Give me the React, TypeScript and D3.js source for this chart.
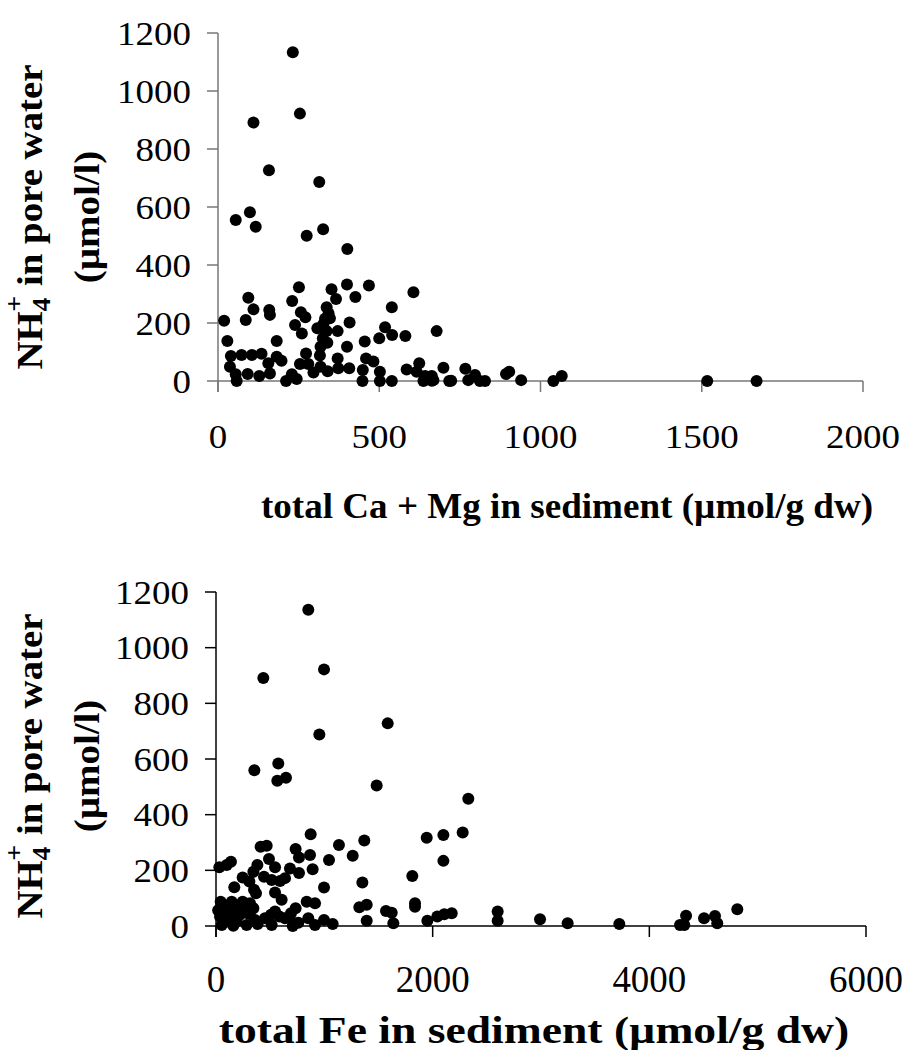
import React from "react";
import * as d3 from "d3";

// ---- Data ----
const caMg = [
  55, 99, 117, 275, 326, 401, 19, 29, 94, 110, 86, 159, 161, 182, 230, 251, 257, 271, 239, 260,
  352, 366, 400, 426, 468, 337, 343, 332, 347, 308, 327, 337, 371, 325, 339, 318, 408, 400, 455, 500,
  518, 540, 539, 581, 606, 678, 699, 40, 73, 105, 135, 37, 55, 58, 92, 128, 161, 156, 182, 197,
  211, 229, 244, 273, 254, 280, 296, 316, 318, 340, 371, 373, 407, 448, 449, 459, 482, 502, 502, 539,
  585, 624, 616, 637, 657, 668, 717, 232, 254, 110, 158, 314, 642, 663, 663, 723, 767, 797, 776, 828,
  812, 893, 903, 940, 1040, 1066, 1517, 1670,
];
const nh4CaMg = [
  555, 582, 532, 501, 523, 455, 208, 138, 287, 247, 210, 245, 228, 138, 276, 323, 237, 220, 193, 164,
  316, 283, 333, 290, 329, 254, 233, 215, 216, 182, 197, 172, 172, 147, 132, 118, 202, 118, 136, 147,
  185, 159, 254, 155, 306, 172, 46, 86, 90, 90, 94, 49, 23, 0, 24, 17, 26, 61, 84, 70,
  0, 23, 7, 95, 59, 59, 29, 88, 49, 34, 78, 44, 44, 0, 38, 78, 67, 32, 0, 0,
  40, 61, 32, 0, 15, 3, 0, 1134, 922, 891, 727, 686, 17, 17, 1, 1, 42, 21, 3, 0,
  0, 24, 32, 3, 0, 17, 0, 0,
];

const fe = [
  852, 997, 437, 1585, 954, 575, 354, 566, 646, 1483, 2329, 874, 1135, 1369, 1262, 1043, 1945, 2099, 2277, 2099,
  1812, 1351, 997, 892, 868, 766, 735, 766, 683, 637, 591, 545, 489, 412, 468, 382, 345, 443, 514, 246,
  308, 351, 369, 169, 31, 99, 138, 545, 606, 837, 914, 735, 692, 545, 508, 585, 637, 720, 760, 708,
  852, 914, 997, 1077, 1323, 1391, 1391, 1569, 1622, 1637, 1837, 1837, 1951, 2043, 2107, 2176, 2600, 2600, 20, 43,
  145, 246, 314, 99, 191, 268, 345, 37, 129, 222, 308, 53, 160, 283, 385, 514, 99, 191, 360, 452,
  2991, 3246, 3723, 4283, 4323, 4339, 4505, 4606, 4627, 4812,
];
const nh4Fe = [
  1136, 922, 891, 728, 688, 584, 560, 522, 533, 505, 457, 330, 291, 307, 252, 237, 317, 327, 336, 234,
  180, 156, 138, 204, 255, 246, 277, 190, 207, 172, 162, 211, 241, 285, 288, 219, 195, 177, 165, 174,
  160, 130, 118, 139, 211, 219, 231, 120, 94, 87, 82, 64, 46, 52, 40, 34, 28, 10, 12, 0,
  28, 4, 22, 7, 67, 76, 19, 54, 48, 10, 82, 69, 19, 34, 42, 46, 52, 19, 57, 87,
  87, 87, 82, 60, 60, 58, 64, 34, 34, 40, 43, 4, 1, 4, 7, 4, 16, 16, 22, 28,
  24, 10, 7, 4, 4, 37, 28, 36, 10, 60,
];

const yTicks = [0, 200, 400, 600, 800, 1000, 1200];
const xTicksCaMg = [0, 500, 1000, 1500, 2000];
const xTicksFe = [0, 2000, 4000, 6000];

const FONT = "'Liberation Serif', 'Times New Roman', serif";

type PanelProps = {
  xs: number[];
  ys: number[];
  xDomain: [number, number];
  xRange: [number, number];
  yRange: [number, number];
  xTicks: number[];
  axisColor: string;
  xTickLabelY: number;
  xTickScaleY: number;
  xTitle: string;
  xTitleX: number;
  xTitleY: number;
  xTitleSize: number;
  xTitleScale: number;
  yTitleCenter: number;
};

function Panel(p: PanelProps) {
  const x = d3.scaleLinear().domain(p.xDomain).range(p.xRange);
  const y = d3.scaleLinear().domain([0, 1200]).range(p.yRange);
  const x0 = x(0);
  const y0 = y(0);
  const tickLen = 11;
  return (
    <g>
      {/* y axis */}
      <line x1={x0} x2={x0} y1={y(1200)} y2={y0 + tickLen} stroke={p.axisColor} strokeWidth={1.5} />
      {yTicks.map((t) => (
        <g key={"yt" + t}>
          <line x1={x0 - tickLen} x2={x0} y1={y(t)} y2={y(t)} stroke={p.axisColor} strokeWidth={1.5} />
          <text
            transform={`translate(${x0 - 27},${y(t)}) scale(1.12,1)`}
            dy="0.35em"
            textAnchor="end"
            fontFamily={FONT}
            fontSize={33}
          >
            {t}
          </text>
        </g>
      ))}
      {/* x axis */}
      <line x1={x0} x2={x(p.xDomain[1])} y1={y0} y2={y0} stroke={p.axisColor} strokeWidth={1.5} />
      {p.xTicks.map((t) => (
        <g key={"xt" + t}>
          <line x1={x(t)} x2={x(t)} y1={y0} y2={y0 + tickLen} stroke={p.axisColor} strokeWidth={1.5} />
          <text
            transform={`translate(${x(t)},${p.xTickLabelY}) scale(1.12,${p.xTickScaleY})`}
            textAnchor="middle"
            fontFamily={FONT}
            fontSize={33}
          >
            {t}
          </text>
        </g>
      ))}
      {/* points */}
      {p.xs.map((v, i) => (
        <circle key={"pt" + i} cx={x(v)} cy={y(p.ys[i])} r={6} fill="#000" />
      ))}
      {/* x title */}
      <text
        transform={`translate(${p.xTitleX},${p.xTitleY}) scale(${p.xTitleScale},1)`}
        textAnchor="middle"
        fontFamily={FONT}
        fontSize={p.xTitleSize}
        fontWeight="bold"
      >
        {p.xTitle}
      </text>
      {/* y title */}
      <text
        transform={`translate(42,${p.yTitleCenter}) rotate(-90) scale(1.08,1)`}
        textAnchor="middle"
        fontFamily={FONT}
        fontSize={36}
        fontWeight="bold"
      >
        NH
        <tspan fontSize={25} dy={8}>4</tspan>
        <tspan fontSize={26} dx={-13} dy={-27}>+</tspan>
        <tspan dy={19}> in pore water</tspan>
      </text>
      <text
        transform={`translate(99,${p.yTitleCenter}) rotate(-90) scale(1.08,1)`}
        textAnchor="middle"
        fontFamily={FONT}
        fontSize={36}
        fontWeight="bold"
      >
        (µmol/l)
      </text>
    </g>
  );
}

export default function App() {
  return (
    <svg
      width={903}
      height={1050}
      viewBox="0 0 903 1050"
      style={{ position: "absolute", left: 0, top: 0, background: "#fff" }}
    >
      <rect x={0} y={0} width={903} height={1050} fill="#fff" />
      <Panel
        xs={caMg}
        ys={nh4CaMg}
        xDomain={[0, 2000]}
        xRange={[218, 863]}
        yRange={[381, 33]}
        xTicks={xTicksCaMg}
        axisColor="#777"
        xTickLabelY={448}
        xTickScaleY={1}
        xTitle="total Ca + Mg in sediment (µmol/g dw)"
        xTitleX={567}
        xTitleY={518}
        xTitleSize={35}
        xTitleScale={1.06}
        yTitleCenter={217}
      />
      <Panel
        xs={fe}
        ys={nh4Fe}
        xDomain={[0, 6000]}
        xRange={[216, 866]}
        yRange={[926, 592]}
        xTicks={xTicksFe}
        axisColor="#000"
        xTickLabelY={992}
        xTickScaleY={1.12}
        xTitle="total Fe in sediment (µmol/g dw)"
        xTitleX={534}
        xTitleY={1043}
        xTitleSize={38}
        xTitleScale={1.2}
        yTitleCenter={766}
      />
    </svg>
  );
}
